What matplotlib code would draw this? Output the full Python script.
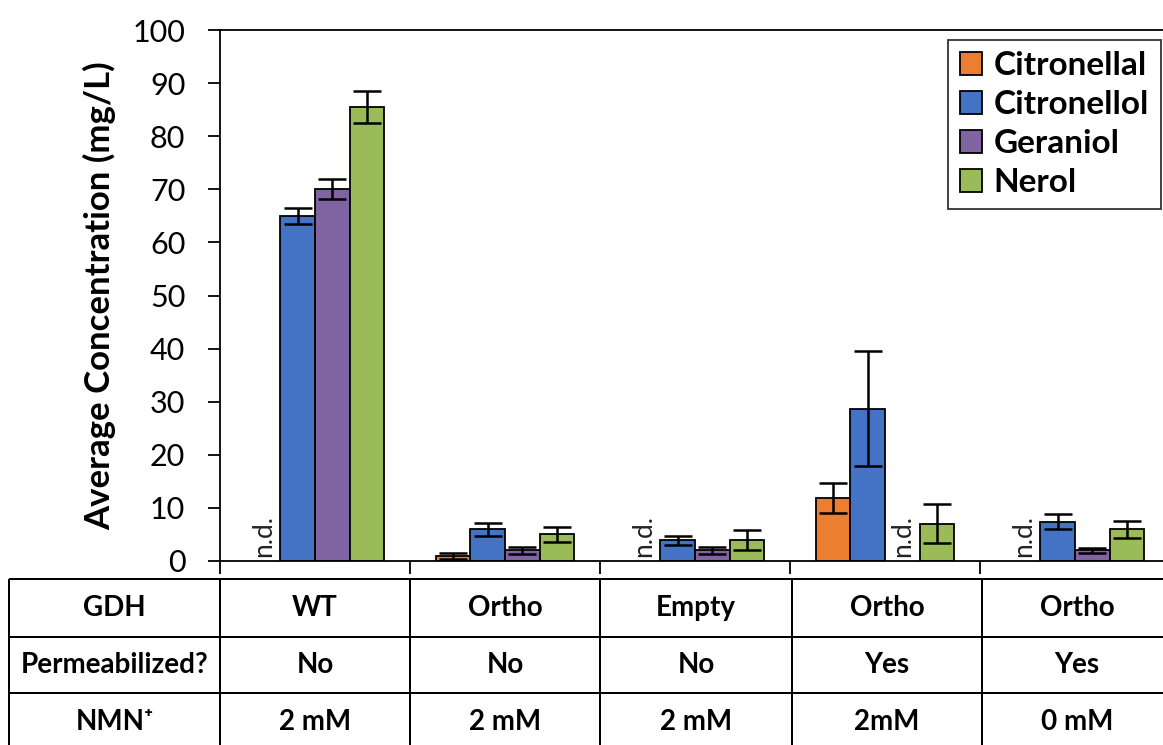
import numpy as np
import matplotlib
matplotlib.use("Agg")
import matplotlib.pyplot as plt
from matplotlib.patches import Patch, Rectangle

plt.rcParams["font.family"] = ["Lato", "DejaVu Sans"]

# conditions (one group of bars per column of the table)
gdh = ["WT", "Ortho", "Empty", "Ortho", "Ortho"]
permeabilized = ["No", "No", "No", "Yes", "Yes"]
nmn = ["2 mM", "2 mM", "2 mM", "2mM", "0 mM"]

compounds = ["Citronellal", "Citronellol", "Geraniol", "Nerol"]
colors = ["#ED7D31", "#4472C4", "#8064A2", "#9BBB59"]

# mean concentration (mg/L), None = not detected
citronellal = [None, 0.9, None, 11.9, None]
citronellol = [65.0, 6.0, 3.9, 28.7, 7.4]
geraniol = [70.0, 2.0, 2.0, None, 2.0]
nerol = [85.5, 5.0, 4.0, 7.0, 6.0]

citronellal_err = [0, 0.6, 0, 2.8, 0]
citronellol_err = [1.5, 1.2, 0.9, 10.8, 1.4]
geraniol_err = [1.9, 0.7, 0.7, 0, 0.45]
nerol_err = [3.0, 1.4, 1.9, 3.7, 1.6]

means = [citronellal, citronellol, geraniol, nerol]
errs = [citronellal_err, citronellol_err, geraniol_err, nerol_err]

W, H = 1163, 745
fig = plt.figure(figsize=(W / 100, H / 100), dpi=100)

# main bar axes, placed in pixel units
ax = fig.add_axes([220 / W, 1 - 561 / H, 950 / W, 531 / H])
x = np.arange(len(gdh))
bw = 0.1816

for j, (name, col) in enumerate(zip(compounds, colors)):
    pos = x + (j - 1.5) * bw
    for i in range(len(x)):
        v = means[j][i]
        if v is None:
            ax.text(pos[i], 0.8, "n.d.", rotation=90, ha="center", va="bottom",
                    fontsize=19, color="#222222")
            continue
        ax.bar(pos[i], v, bw, color=col, edgecolor="black", linewidth=1.3, zorder=2)
        ax.errorbar(pos[i], v, yerr=errs[j][i], fmt="none", ecolor="black",
                    elinewidth=1.8, capsize=10, capthick=1.8, zorder=3)

ax.set_xlim(-0.5, 4.5)
ax.set_ylim(0, 100)
ax.set_yticks(range(0, 101, 10))
ax.set_xticks(np.arange(-0.5, 5, 1.0))
ax.set_xticklabels([])
ax.tick_params(axis="y", direction="out", length=9, width=1.3, pad=16, labelsize=22)
ax.tick_params(axis="x", direction="out", length=9, width=1.3)
ax.spines["right"].set_visible(False)
for s in ["left", "bottom", "top"]:
    ax.spines[s].set_linewidth(1.3)
ax.set_ylabel("Average Concentration (mg/L)", fontsize=25, fontweight="bold", labelpad=12)

handles = [Patch(facecolor=c, edgecolor="black", linewidth=1.3) for c in colors]
leg = ax.legend(handles, compounds, loc="upper right", bbox_to_anchor=(0.99, 0.982),
                prop={"weight": "bold", "size": 24}, frameon=True, fancybox=False,
                handlelength=0.65, handleheight=0.65, handletextpad=0.35,
                labelspacing=0.3, borderpad=0.35, borderaxespad=0)
leg.get_frame().set_edgecolor("black")
leg.get_frame().set_linewidth(1.3)

# condition table under the bars: overlay axes in pixel coordinates,
# rules drawn as thin filled strips
col_edges = [9, 220, 410, 600, 792, 982, 1172]
row_edges = [579, 637, 693, 751]
rule = 2.2
tb = fig.add_axes([0, 0, 1, 1])
tb.set_xlim(0, W)
tb.set_ylim(H, 0)
tb.axis("off")
for yy in row_edges[:3]:
    tb.add_patch(Rectangle((col_edges[0], yy - rule / 2), W - col_edges[0], rule,
                           facecolor="black", edgecolor="none", zorder=5))
for xx in col_edges[:6]:
    tb.add_patch(Rectangle((xx - rule / 2, row_edges[0]), rule, H - row_edges[0],
                           facecolor="black", edgecolor="none", zorder=5))

row_names = ["GDH", "Permeabilized?", "NMN\u207a"]
rows = [gdh, permeabilized, nmn]
centers = [(a + b) / 2 for a, b in zip(col_edges, col_edges[1:])]
for r, (label, vals) in enumerate(zip(row_names, rows)):
    yc = (row_edges[r] + row_edges[r + 1]) / 2
    tb.text(centers[0], yc, label, ha="center", va="center",
            fontsize=20, fontweight="bold")
    for i, v in enumerate(vals):
        tb.text(centers[i + 1], yc, v, ha="center", va="center",
                fontsize=20, fontweight="bold")

fig.savefig("out.png", dpi=100)
